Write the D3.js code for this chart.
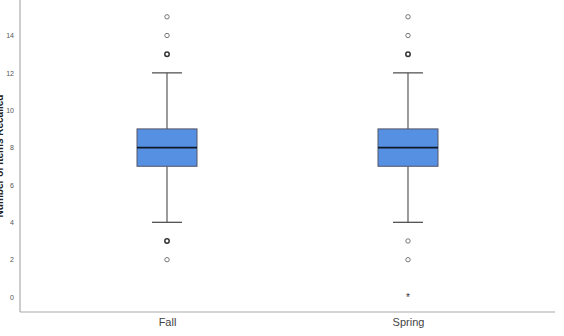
<!DOCTYPE html>
<html>
<head>
<meta charset="utf-8">
<script src="https://cdn.jsdelivr.net/npm/d3@7"></script>
<style>
  body { margin: 0; background: #fff; }
  svg { display: block; font-family: Arial, "Liberation Sans", sans-serif; }
  .y-axis text { fill: #555; font-size: 7px; }
  .x-axis text { fill: #444; font-size: 11px; }
</style>
</head>
<body>
<script>
var categories = ["Fall", "Spring"];
var q1 = [7, 7];
var medians = [8, 8];
var q3 = [9, 9];
var whiskerLow = [4, 4];
var whiskerHigh = [12, 12];
// outliers: [category index, value, multiple?]
var outliers = [
  [0, 15, false], [0, 14, false], [0, 13, true], [0, 3, true], [0, 2, false],
  [1, 15, false], [1, 14, false], [1, 13, true], [1, 3, false], [1, 2, false]
];
var extremes = [[1, 0]];
var yTicks = [0, 2, 4, 6, 8, 10, 12, 14];

var width = 564, height = 336;
var margin = {top: 0, right: 9, bottom: 24, left: 20};

var svg = d3.select("body").append("svg")
  .attr("width", width)
  .attr("height", height);

var x = d3.scalePoint()
  .domain(categories)
  .range([margin.left, width - margin.right])
  .padding(0.61);

var y = d3.scaleLinear()
  .domain([-0.8, 15.9])
  .range([height - margin.bottom, margin.top]);

var boxW = 60, capW = 30;
function cx(i) { return x(categories[i]); }

// axes lines
svg.append("line")
  .attr("x1", margin.left).attr("x2", margin.left)
  .attr("y1", margin.top).attr("y2", height - margin.bottom)
  .attr("stroke", "#aaa").attr("stroke-width", 1.2);
svg.append("line")
  .attr("x1", margin.left).attr("x2", width - margin.right)
  .attr("y1", height - margin.bottom).attr("y2", height - margin.bottom)
  .attr("stroke", "#aaa").attr("stroke-width", 1.2);

var yAxis = d3.axisLeft(y).tickValues(yTicks).tickSize(0).tickPadding(6);
svg.append("g")
  .attr("class", "y-axis")
  .attr("transform", "translate(" + margin.left + ",0)")
  .call(yAxis)
  .call(function(g) { g.select(".domain").remove(); });

var xAxis = d3.axisBottom(x).tickSize(0).tickPadding(6);
svg.append("g")
  .attr("class", "x-axis")
  .attr("transform", "translate(0," + (height - margin.bottom) + ")")
  .call(xAxis)
  .call(function(g) { g.select(".domain").remove(); });

// title runs off the left edge, as in the source image
svg.append("text")
  .attr("transform", "translate(3," + y(7.55) + ") rotate(-90)")
  .attr("text-anchor", "middle")
  .attr("font-size", "10px")
  .attr("font-weight", "bold")
  .attr("fill", "#222")
  .text("Number of Items Recalled");

var boxes = svg.selectAll(".box")
  .data(categories)
  .enter().append("g")
  .attr("class", "box");

// whiskers
boxes.append("line")
  .attr("x1", function(d, i) { return cx(i); })
  .attr("x2", function(d, i) { return cx(i); })
  .attr("y1", function(d, i) { return y(whiskerHigh[i]); })
  .attr("y2", function(d, i) { return y(q3[i]); })
  .attr("stroke", "#666").attr("stroke-width", 1.3);
boxes.append("line")
  .attr("x1", function(d, i) { return cx(i); })
  .attr("x2", function(d, i) { return cx(i); })
  .attr("y1", function(d, i) { return y(q1[i]); })
  .attr("y2", function(d, i) { return y(whiskerLow[i]); })
  .attr("stroke", "#666").attr("stroke-width", 1.3);
boxes.append("line")
  .attr("x1", function(d, i) { return cx(i) - capW / 2; })
  .attr("x2", function(d, i) { return cx(i) + capW / 2; })
  .attr("y1", function(d, i) { return y(whiskerHigh[i]); })
  .attr("y2", function(d, i) { return y(whiskerHigh[i]); })
  .attr("stroke", "#555").attr("stroke-width", 1.3);
boxes.append("line")
  .attr("x1", function(d, i) { return cx(i) - capW / 2; })
  .attr("x2", function(d, i) { return cx(i) + capW / 2; })
  .attr("y1", function(d, i) { return y(whiskerLow[i]); })
  .attr("y2", function(d, i) { return y(whiskerLow[i]); })
  .attr("stroke", "#555").attr("stroke-width", 1.3);

boxes.append("rect")
  .attr("x", function(d, i) { return cx(i) - boxW / 2; })
  .attr("y", function(d, i) { return y(q3[i]); })
  .attr("width", boxW)
  .attr("height", function(d, i) { return y(q1[i]) - y(q3[i]); })
  .attr("fill", "#5590e3")
  .attr("stroke", "#556").attr("stroke-width", 1);

boxes.append("line")
  .attr("x1", function(d, i) { return cx(i) - boxW / 2; })
  .attr("x2", function(d, i) { return cx(i) + boxW / 2; })
  .attr("y1", function(d, i) { return y(medians[i]); })
  .attr("y2", function(d, i) { return y(medians[i]); })
  .attr("stroke", "#101828").attr("stroke-width", 1.6);

svg.selectAll(".outlier")
  .data(outliers)
  .enter().append("circle")
  .attr("class", "outlier")
  .attr("cx", function(d) { return cx(d[0]); })
  .attr("cy", function(d) { return y(d[1]); })
  .attr("r", 2.2)
  .attr("fill", "none")
  .attr("stroke", function(d) { return d[2] ? "#333" : "#777"; })
  .attr("stroke-width", function(d) { return d[2] ? 1.5 : 1; });

svg.selectAll(".extreme")
  .data(extremes)
  .enter().append("text")
  .attr("class", "extreme")
  .attr("x", function(d) { return cx(d[0]); })
  .attr("y", function(d) { return y(d[1]) + 4; })
  .attr("text-anchor", "middle")
  .attr("font-size", "10px")
  .attr("fill", "#333")
  .text("*");
</script>
</body>
</html>
